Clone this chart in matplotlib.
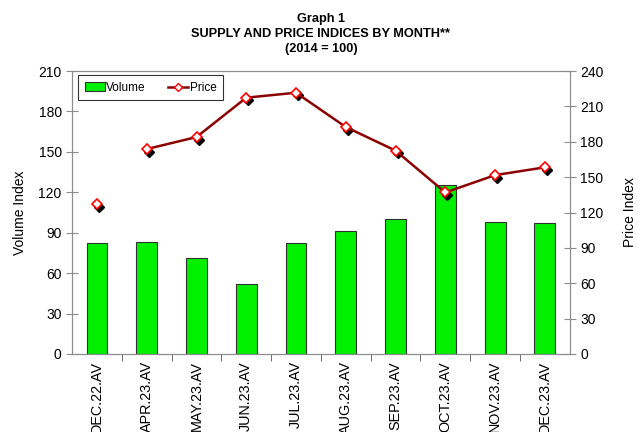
# -*- coding: utf-8 -*-

import matplotlib
matplotlib.use("Agg")
import matplotlib.pyplot as plt
import matplotlib.transforms as mtransforms
from matplotlib.patches import Patch
from matplotlib.lines import Line2D
import numpy as np

plt.rcParams["font.family"] = ["Liberation Sans", "DejaVu Sans"]

months = ["DEC.22.AV", "APR.23.AV", "MAY.23.AV", "JUN.23.AV", "JUL.23.AV",
          "AUG.23.AV", "SEP.23.AV", "OCT.23.AV", "NOV.23.AV", "DEC.23.AV"]
volume = [82.7, 83.2, 71.3, 52.1, 82.4, 91.1, 100.4, 125.4, 98.0, 97.5]
price = [127.4, 173.8, 184.0, 217.4, 221.6, 192.5, 172.5, 137.0, 151.7, 158.3]

vol_ticks = [0, 30, 60, 90, 120, 150, 180, 210]
price_ticks = [0, 30, 60, 90, 120, 150, 180, 210, 240]

grey = "#8c8c8c"
line_red = "#8b0000"

# ------------------------------------------------------------
fig = plt.figure(figsize=(6.38, 4.32), dpi=100)
ax = fig.add_axes([0.113, 0.1806, 0.78, 0.655])
ax2 = ax.twinx()

x = np.arange(len(months))
ax.bar(x, volume, width=0.42, color="#00f000", edgecolor="#303030",
       linewidth=0.8, zorder=2)

ax.set_xlim(-0.5, len(months) - 0.5)
ax.set_ylim(0, 210)
ax.set_yticks(vol_ticks)
ax2.set_ylim(0, 240)
ax2.set_yticks(price_ticks)

# price: shadow markers first, then the line (first month not joined)
shadow = mtransforms.offset_copy(ax2.transData, fig=fig, x=1.5, y=-2,
                                 units="points")
ax2.plot(x, price, linestyle="none", marker="D", markersize=5,
         color="black", transform=shadow, zorder=3)
ax2.plot(x[1:], price[1:], color=line_red, linewidth=1.8, zorder=4)
ax2.plot(x, price, linestyle="none", marker="D", markersize=5,
         markerfacecolor="white", markeredgecolor="red",
         markeredgewidth=1.2, zorder=5)

ax.set_xticks(x)
ax.set_xticklabels(months, rotation=90, fontsize=10.4)
ax.tick_params(axis="x", which="major", length=0, pad=5)
ax.set_xticks(x[:-1] + 0.5, minor=True)
ax.tick_params(axis="x", which="minor", length=5, color="#555555")

ax.tick_params(axis="y", direction="inout", length=8, color=grey,
               labelsize=10)
ax2.tick_params(axis="y", direction="inout", length=8, color=grey,
                labelsize=10)

for a in (ax, ax2):
    for s in a.spines.values():
        s.set_color(grey)
        s.set_linewidth(0.8)

ax.set_ylabel("Volume Index", fontsize=10, labelpad=8)
ax2.set_ylabel("Price Index", fontsize=10, labelpad=14)

handles = [Patch(facecolor="#00f000", edgecolor="#303030", linewidth=0.8),
           Line2D([], [], color=line_red, linewidth=1.8, marker="D",
                  markersize=4.5, markerfacecolor="white",
                  markeredgecolor="red")]
leg = ax2.legend(handles, ["Volume", "Price"], loc="upper left", ncol=2,
                 fontsize=8.5, frameon=True, fancybox=False, borderpad=0.55,
                 borderaxespad=0, handlelength=1.7, handletextpad=0.15,
                 columnspacing=1.9, bbox_to_anchor=(0.012, 0.985))
leg.get_frame().set_edgecolor("black")
leg.get_frame().set_linewidth(0.8)

title_font = ["Liberation Sans Narrow", "Liberation Sans", "DejaVu Sans"]
fig.text(0.503, 0.956, "Graph 1", ha="center", va="center", fontsize=9.2,
         fontweight="bold", family=title_font)
fig.text(0.503, 0.921, "SUPPLY AND PRICE INDICES BY MONTH**", ha="center",
         va="center", fontsize=9.2, fontweight="bold", family=title_font)
fig.text(0.503, 0.886, "(2014 = 100)", ha="center", va="center",
         fontsize=9.2, fontweight="bold", family=title_font)

plt.savefig("out.png", dpi=100)
